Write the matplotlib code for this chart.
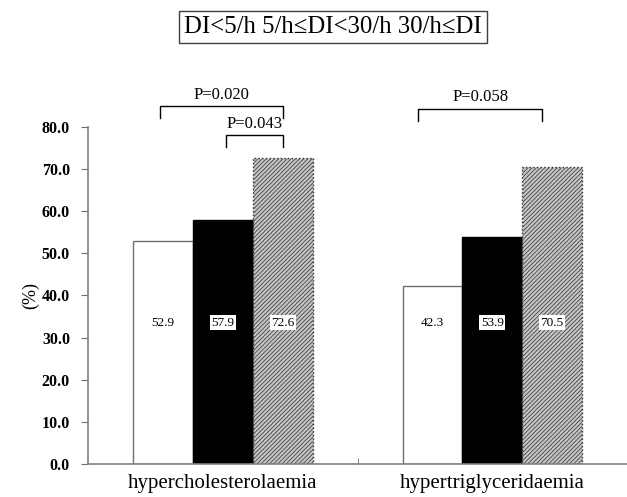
import matplotlib
matplotlib.use("Agg")
import matplotlib.pyplot as plt
import numpy as np

plt.rcParams['font.family'] = ['Liberation Serif', 'DejaVu Serif']
plt.rcParams['hatch.linewidth'] = 0.5
plt.rcParams['hatch.color'] = '#404040'

categories = ['hypercholesterolaemia', 'hypertriglyceridaemia']
groups = ['DI<5/h', '5/h\u2264DI<30/h', '30/h\u2264DI']
values = [[52.9, 42.3], [57.9, 53.9], [72.6, 70.5]]
labels = [['52.9', '42.3'], ['57.9', '53.9'], ['72.6', '70.5']]
pvalues = ['P=0.020', 'P=0.043', 'P=0.058']
yticks = [0, 10, 20, 30, 40, 50, 60, 70, 80]

fig = plt.figure(figsize=(6.27, 4.97), dpi=100)
ax = fig.add_axes([0.1404, 0.0664, 0.8596, 0.6781])

x = np.arange(len(categories))
w = 0.222
offs = [-w, 0, w]
styles = [
    dict(facecolor='white', edgecolor='#707070', linewidth=1.0),
    dict(facecolor='black', edgecolor='black', linewidth=1.0),
    dict(facecolor='#c4c4c4', edgecolor='#303030', hatch='////////', linewidth=1.0, linestyle=':'),
]
for i in range(3):
    ax.bar(x + offs[i], values[i], w, label=groups[i], **styles[i])
    for j in range(len(categories)):
        if i == 0:
            ax.text(x[j] + offs[i], 33.5, labels[i][j], ha='center', va='center', fontsize=9.5)
        else:
            ax.text(x[j] + offs[i], 33.5, labels[i][j], ha='center', va='center', fontsize=9.5,
                    bbox=dict(facecolor='white', edgecolor='none', pad=1.0))

ax.set_xlim(-0.5, 1.5)
ax.set_ylim(0, 80)
ax.set_yticks(yticks)
ax.set_yticklabels(['%.1f' % t for t in yticks], fontsize=11.5, fontweight='bold')
ax.set_xticks(x)
ax.set_xticklabels(categories, fontsize=15)
ax.tick_params(axis='x', length=0, pad=7)
ax.set_xticks([0.5, 1.5], minor=True)
ax.tick_params(axis='x', which='minor', direction='in', length=4, color='#707070')
ax.tick_params(axis='y', length=5, color='#707070', pad=8)
for s in ['top', 'right']:
    ax.spines[s].set_visible(False)
for s in ['left', 'bottom']:
    ax.spines[s].set_color('#808080')
    ax.spines[s].set_linewidth(1.2)
ax.set_ylabel('(%)', fontsize=13, labelpad=2)


def bracket(x0, x1, ytop, ybot, ytext, txt):
    ax.plot([x0, x0, x1, x1], [ybot, ytop, ytop, ybot], color='black', lw=1.0, clip_on=False)
    ax.text((x0 + x1) / 2, ytext, txt, ha='center', va='center', fontsize=12, clip_on=False)


bracket(-0.233, 0.222, 85.0, 82.1, 87.7, pvalues[0])
bracket(0.011, 0.222, 78.1, 75.3, 80.8, pvalues[1])
bracket(0.726, 1.185, 84.3, 81.4, 87.2, pvalues[2])

fig.text(333 / 627, 1 - 27 / 497, ' '.join(groups), ha='center', va='center',
         fontsize=17.8, bbox=dict(facecolor='white', edgecolor='#404040', linewidth=1.0, pad=4))

fig.savefig('out.png', dpi=100)
